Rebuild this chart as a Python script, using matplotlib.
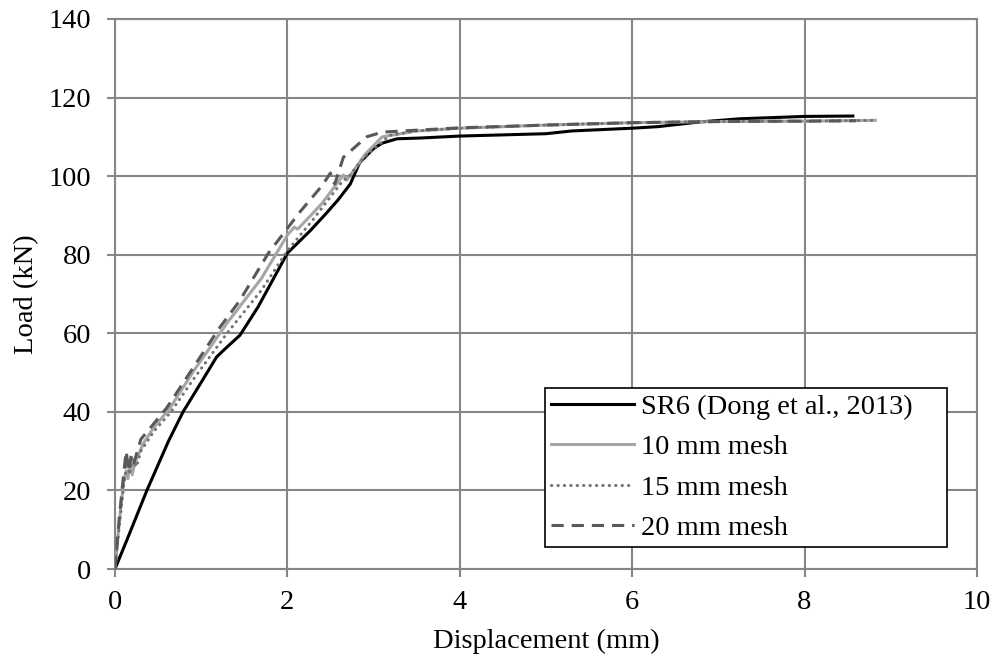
import matplotlib
matplotlib.use('Agg')
import matplotlib.pyplot as plt

# Load-displacement data
sr6_disp = [0, 0.15, 0.37, 0.5, 0.62, 0.79, 1.0, 1.18, 1.3, 1.45, 1.66, 2.0,
            2.26, 2.45, 2.59, 2.73, 2.84, 3.0, 3.1, 3.27, 3.54, 4.0, 4.5, 5.0,
            5.3, 6.0, 6.3, 6.79, 7.25, 8.0, 8.56]
sr6_load = [0, 8, 20, 26.5, 32.5, 40, 47.5, 54, 56.5, 59.5, 66.7, 80.4,
            86, 90.5, 94, 98, 103.5, 107, 108.4, 109.5, 109.7, 110.2, 110.5, 110.8,
            111.5, 112.2, 112.6, 113.8, 114.6, 115.2, 115.3]

mesh10_disp = [0, 0.05, 0.1, 0.13, 0.15, 0.18, 0.2, 0.23, 0.27, 0.33, 0.45, 0.64,
               0.9, 1.3, 1.7, 2.0, 2.08, 2.12, 2.4, 2.65, 2.69, 2.9, 3.1, 3.5,
               4.0, 5.0, 6.0, 7.0, 8.0, 8.82]
mesh10_load = [0, 12, 22, 25, 23, 28, 24, 27, 29, 32, 36, 41,
               50, 62.6, 74, 85, 87, 86.5, 93, 100.3, 99, 105.5, 110, 111.5,
               112.2, 113, 113.6, 113.9, 114.0, 114.2]

mesh15_disp = [0, 0.05, 0.1, 0.14, 0.17, 0.2, 0.25, 0.3, 0.45, 0.65, 0.9, 1.3,
               1.7, 2.0, 2.3, 2.65, 2.7, 2.9, 3.19, 3.5, 4.0, 5.0, 6.0, 7.0,
               8.0, 8.82]
mesh15_load = [0, 11, 21, 27, 24, 28, 26, 30, 35, 40, 48, 60,
               71, 81, 89, 99, 99.5, 105, 110.4, 111.5, 112.2, 113, 113.6, 113.9,
               114.0, 114.2]

mesh20_disp = [0, 0.05, 0.1, 0.13, 0.16, 0.19, 0.22, 0.3, 0.45, 0.6, 0.87, 1.2,
               1.45, 1.78, 2.15, 2.4, 2.5, 2.52, 2.55, 2.65, 2.92, 3.1, 3.5, 4.0,
               5.0, 6.0, 7.0, 8.0, 8.6]
mesh20_load = [0, 13, 24, 30, 25, 29, 27, 33, 37, 41, 50, 61,
               68.4, 80.4, 91, 97.5, 100.8, 99, 98, 104.8, 110, 111.2, 111.7, 112.3,
               113, 113.6, 113.9, 114.0, 114.1]

x_ticks = [0, 2, 4, 6, 8, 10]
y_ticks = [0, 20, 40, 60, 80, 100, 120, 140]

plt.rcParams['font.family'] = ['Liberation Serif', 'DejaVu Serif']
FS = 20.5
GRID = '#868686'

fig = plt.figure(figsize=(9.97, 6.66), dpi=100)
ax = fig.add_axes([0.1153, 0.1456, 0.8646, 0.8259])

lw = 2.2
ax.plot(sr6_disp, sr6_load, color='black', lw=lw,
        label='SR6 (Dong et al., 2013)', zorder=3)
ax.plot(mesh10_disp, mesh10_load, color='#a6a6a6', lw=lw,
        label='10 mm mesh', zorder=4)
ax.plot(mesh15_disp, mesh15_load, color='#737373', lw=lw,
        dashes=(0.1, 2.0), dash_capstyle='round', label='15 mm mesh', zorder=5)
ax.plot(mesh20_disp, mesh20_load, color='#595959', lw=lw,
        dashes=(4.0, 2.6), label='20 mm mesh', zorder=6)

ax.set_xlim(0, 10)
ax.set_ylim(0, 140)
ax.set_xticks(x_ticks)
ax.set_yticks(y_ticks)
ax.grid(True, color=GRID, lw=1.5)
ax.set_axisbelow(True)
for sp in ax.spines.values():
    sp.set_color(GRID)
    sp.set_linewidth(1.5)
ax.tick_params(direction='out', length=6, width=1.5, color=GRID,
               labelsize=FS)
ax.tick_params(axis='x', pad=9)
ax.tick_params(axis='y', pad=11)

ax.set_xlabel('Displacement (mm)', fontsize=FS, labelpad=10)
ax.set_ylabel('Load (kN)', fontsize=FS, labelpad=7)

# legend box spans a fixed width, like the original
lgd = ax.legend(loc='upper left', bbox_to_anchor=(0.499, 0.05, 0.466, 0.279),
                mode='expand', borderaxespad=0, fontsize=FS, fancybox=False,
                framealpha=1, edgecolor='black', handlelength=2.9,
                handletextpad=0.25, labelspacing=0.5, borderpad=0.22)
lgd.get_frame().set_linewidth(1.2)

fig.savefig('out.png', dpi=100)
